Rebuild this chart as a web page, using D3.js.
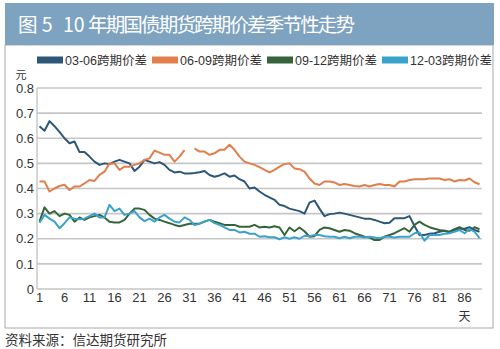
<!DOCTYPE html>
<html>
<head>
<meta charset="utf-8">
<script src="https://cdn.jsdelivr.net/npm/d3@7"></script>
<style>
  body { margin: 0; background: #fff; }
  svg { display: block; font-family: "Liberation Sans", "Noto Sans CJK SC", sans-serif; }
</style>
</head>
<body>
<svg id="chart" width="500" height="349"></svg>
<script>
// --- data ---
const days = d3.range(1, 90);
const seriesNames = ["03-06跨期价差", "06-09跨期价差", "09-12跨期价差", "12-03跨期价差"];
const seriesColors = ["#2c5776", "#e07e4c", "#35643a", "#3ba2cb"];

const s0306 = [0.648,0.63,0.668,0.648,0.625,0.6,0.58,0.587,0.545,0.545,0.527,0.507,0.494,0.50,0.497,0.507,0.514,0.507,0.50,0.47,0.487,0.514,0.507,0.50,0.505,0.494,0.474,0.464,0.467,0.46,0.46,
  0.462,0.465,0.47,0.454,0.447,0.452,0.46,0.447,0.452,0.437,0.428,0.40,0.404,0.388,0.375,0.365,0.355,0.335,0.33,0.32,0.315,0.31,0.30,0.344,0.352,0.32,0.29,0.298,0.30,
  0.304,0.30,0.295,0.29,0.285,0.28,0.28,0.275,0.268,0.262,0.264,0.282,0.282,0.282,0.29,0.251,0.215,0.215,0.22,0.222,0.228,0.232,0.226,0.235,0.24,0.24,0.246,0.235,0.228];
const s0609 = [0.428,0.428,0.388,0.40,0.41,0.415,0.394,0.408,0.408,0.42,0.434,0.43,0.454,0.467,0.50,0.50,0.474,0.487,0.487,0.494,0.50,0.514,0.52,0.551,0.543,0.534,0.534,0.507,0.527,0.553,
  null,
  0.56,0.547,0.547,0.534,0.54,0.554,0.554,0.574,0.554,0.527,0.507,0.50,0.494,0.485,0.474,0.464,0.474,0.487,0.497,0.50,0.48,0.477,0.467,0.44,0.42,0.414,0.428,0.428,0.424,
  0.414,0.418,0.414,0.41,0.408,0.414,0.408,0.414,0.418,0.414,0.414,0.408,0.428,0.428,0.434,0.437,0.437,0.437,0.44,0.44,0.44,0.434,0.437,0.428,0.434,0.432,0.44,0.425,0.417];
const s0912 = [0.268,0.325,0.30,0.31,0.29,0.30,0.295,0.268,0.285,0.275,0.285,0.29,0.295,0.285,0.268,0.265,0.265,0.275,0.30,0.32,0.32,0.315,0.295,0.28,0.275,0.268,0.262,0.255,0.25,
  0.255,0.26,0.26,0.26,0.268,0.275,0.268,0.262,0.255,0.255,0.255,0.248,0.248,0.248,0.255,0.245,0.248,0.245,0.25,0.245,0.215,0.245,0.23,0.245,0.23,0.208,0.21,0.235,0.245,
  0.242,0.235,0.228,0.235,0.232,0.222,0.215,0.208,0.205,0.195,0.195,0.208,0.215,0.222,0.232,0.242,0.228,0.255,0.268,0.255,0.246,0.24,0.235,0.232,0.228,0.238,0.246,0.235,0.232,0.246,0.238];
const s1203 = [0.264,0.295,0.28,0.268,0.242,0.262,0.285,0.28,0.278,0.28,0.29,0.30,0.285,0.285,0.335,0.31,0.32,0.295,0.30,0.31,0.285,0.27,0.28,0.268,0.285,0.295,0.28,0.268,0.265,
  0.285,0.275,0.255,0.26,0.268,0.275,0.262,0.255,0.245,0.235,0.235,0.225,0.228,0.22,0.22,0.208,0.21,0.206,0.206,0.198,0.206,0.2,0.206,0.2,0.212,0.21,0.215,0.215,0.21,
  0.208,0.208,0.202,0.208,0.202,0.208,0.208,0.205,0.208,0.205,0.202,0.208,0.208,0.205,0.208,0.208,0.208,0.222,0.225,0.192,0.215,0.215,0.215,0.22,0.222,0.228,0.235,0.222,0.238,0.228,0.202];
const seriesValues = [s0306, s0609, s0912, s1203];
const yTicks = [0, 0.1, 0.2, 0.3, 0.4, 0.5, 0.6, 0.7, 0.8];
const xTicks = d3.range(1, 90, 5);

const svg = d3.select("#chart");

// --- title bar + frame ---
svg.append("rect").attr("x", 5).attr("y", 45).attr("width", 488).attr("height", 283)
  .attr("fill", "#fff").attr("stroke", "#a9a9a9").attr("stroke-width", 1);
svg.append("rect").attr("x", 5).attr("y", 3).attr("width", 489).attr("height", 42)
  .attr("fill", "#7ea3c0");
const title = svg.append("text").attr("y", 32).attr("fill", "#fff")
  .attr("font-size", 19.5).attr("font-family", "Noto Sans CJK SC, sans-serif");
title.append("tspan").attr("x", 18).text("图 5");
title.append("tspan").attr("x", 63).text("10");
title.append("tspan").attr("x", 88)
  .attr("textLength", 267).attr("lengthAdjust", "spacing")
  .text("年期国债期货跨期价差季节性走势");

// --- scales ---
const x = d3.scaleBand().domain(days).range([37, 482]);
const y = d3.scaleLinear().domain([0, 0.8]).range([289, 88]);
const cx = d => x(d) + x.bandwidth() / 2;

// grid
svg.append("g").selectAll("line").data(yTicks).join("line")
  .attr("x1", 37).attr("x2", 482)
  .attr("y1", d => y(d)).attr("y2", d => y(d))
  .attr("stroke", "#c6c6c6").attr("stroke-width", 1.6);
svg.append("line").attr("x1", 37).attr("x2", 37).attr("y1", y(0.8)).attr("y2", y(0))
  .attr("stroke", "#c6c6c6").attr("stroke-width", 1.4);

// axes
const yAxis = svg.append("g").attr("transform", "translate(34,0)")
  .call(d3.axisLeft(y).tickValues(yTicks).tickSize(0).tickPadding(0)
    .tickFormat(d => d === 0 ? "0" : d.toFixed(1)));
yAxis.select(".domain").remove();
yAxis.selectAll("text").attr("font-size", 13).attr("fill", "#333")
  .attr("font-family", "Liberation Sans, sans-serif");

const xAxis = svg.append("g").attr("transform", "translate(0,293)")
  .call(d3.axisBottom(x).tickValues(xTicks).tickSize(0).tickPadding(0));
xAxis.select(".domain").remove();
xAxis.selectAll("text").attr("font-size", 13).attr("fill", "#333")
  .attr("font-family", "Liberation Sans, sans-serif");

svg.append("text").attr("x", 21).attr("y", 79).attr("text-anchor", "middle")
  .attr("font-size", 11).attr("fill", "#333").attr("font-family", "Noto Sans CJK SC, sans-serif")
  .text("元");
svg.append("text").attr("x", cx(86)).attr("y", 321).attr("text-anchor", "middle")
  .attr("font-size", 12).attr("fill", "#333").attr("font-family", "Noto Sans CJK SC, sans-serif")
  .text("天");

// lines
const line = d3.line()
  .defined(d => d.v != null)
  .x(d => cx(d.day))
  .y(d => y(d.v));

seriesValues.forEach((vals, i) => {
  svg.append("path")
    .datum(days.map((day, j) => ({ day, v: vals[j] })))
    .attr("d", line)
    .attr("fill", "none")
    .attr("stroke", seriesColors[i])
    .attr("stroke-width", 2)
    .attr("stroke-linejoin", "round");
});

// legend
const legendX = [37, 152, 267, 382];
const legend = svg.append("g").selectAll("g").data(seriesNames).join("g")
  .attr("transform", (d, i) => `translate(${legendX[i]},60)`);
legend.append("rect").attr("x", 0).attr("y", -3.5).attr("width", 26).attr("height", 7)
  .attr("fill", (d, i) => seriesColors[i]);
legend.append("text").attr("x", 28).attr("y", 4.5).attr("font-size", 12.5).attr("fill", "#333")
  .attr("font-family", "Liberation Sans, Noto Sans CJK SC, sans-serif")
  .text(d => d);

// source
svg.append("text").attr("x", 5).attr("y", 345).attr("font-size", 13.5).attr("fill", "#333")
  .attr("font-family", "Noto Sans CJK SC, sans-serif")
  .text("资料来源：信达期货研究所");
</script>
</body>
</html>
